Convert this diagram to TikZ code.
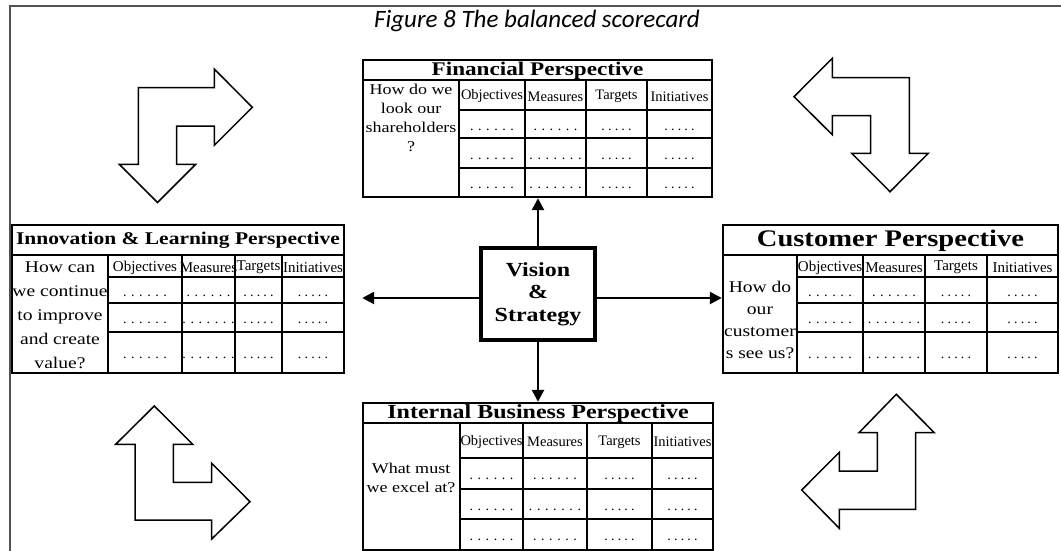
\documentclass[tikz,border=0pt]{standalone}
\usepackage{fontspec}
\usetikzlibrary{arrows.meta,fit,calc}
\newfontfamily\captionfont{Carlito}
\newfontfamily\pal[FakeStretch=1.2]{Liberation Serif}
\newfontfamily\palnarrow{Liberation Serif}
\newcommand\fs[2]{\fontsize{#1}{#2}\selectfont}

% splitting helpers for the card geometry
\def\gettwo#1,#2\relax{\def\xL{#1}\def\xR{#2}}
\def\getsix#1,#2,#3,#4,#5,#6\relax{\def\yT{#1}\def\yA{#2}\def\yB{#3}\def\yC{#4}\def\yE{#5}\def\yD{#6}}
\def\getfour#1,#2,#3,#4\relax{\def\xQ{#1}\def\xa{#2}\def\xb{#3}\def\xc{#4}}

% spaced rows of dots: #1 = number of dots, #2 = gap
\newcommand\dotrow[2]{.\foreach\i in {2,...,#1}{\hspace{#2}.}}
\newcommand\sixdots{\dotrow{6}{4.6pt}}
\newcommand\sevendots{\dotrow{7}{4.6pt}}
\newcommand\fivedots{\dotrow{5}{3.2pt}}

\tikzset{
  cardbox/.style={draw, line width=2.4pt, inner sep=0pt},
  gridline/.style={line width=2.2pt},
  hdr/.style={inner sep=0pt},
  dotcell/.style={inner sep=0pt, anchor=base, font=\palnarrow\fs{14}{14}},
  cardtitle/.style={inner sep=0pt, font=\pal\bfseries\fs{#1}{#1}},
  question/.style={inner sep=0pt, align=center},
  visionbox/.style={draw, line width=3.5pt, minimum width=114pt, minimum height=92pt,
    inner sep=0pt, align=center, font=\pal\bfseries\fs{20}{22.5}},
  conn/.style={line width=2.5pt, -{Triangle[length=12pt,width=12pt]}},
  bentarrow/.style={line width=1.5pt, line join=miter, fill=white},
  frameline/.style={line width=2pt, draw=black!68},
}

% #1 name, #2 left,right, #3 top,title,header,row1,row2,bottom,
% #4 column dividers, #5 header font size, #6 measures entry of the last row
\newcommand\scorecard[6]{%
  \gettwo#2\relax\getsix#3\relax\getfour#4\relax
  \node[cardbox, fit={(\xL,\yT) (\xR,\yD)}] (#1) {};
  \draw[gridline] (\xL,\yA) -- (\xR,\yA);
  \foreach \y in {\yB,\yC,\yE} {\draw[gridline] (\xQ,\y) -- (\xR,\y);}
  \foreach \x in {\xQ,\xa,\xb,\xc} {\draw[gridline] (\x,\yA) -- (\x,\yD);}
  \foreach \lab/\p/\q in {Objectives/\xQ/\xa, Measures/\xa/\xb, Targets/\xb/\xc, Initiatives/\xc/\xR}
    {\node[hdr, font=\palnarrow\fs{#5}{#5}] at ({(\p+\q)/2},{(\yA+\yB)/2+1.5}) {\lab};}
  \foreach \ya/\yb/\m in {\yB/\yC/\sixdots, \yC/\yE/\sevendots, \yE/\yD/#6}{
    \node[dotcell] at ({(\xQ+\xa)/2},{(\ya+\yb)/2+6}) {\sixdots};
    \node[dotcell] at ({(\xa+\xb)/2},{(\ya+\yb)/2+6}) {\m};
    \node[dotcell] at ({(\xb+\xc)/2},{(\ya+\yb)/2+6}) {\fivedots};
    \node[dotcell] at ({(\xc+\xR)/2},{(\ya+\yb)/2+6}) {\fivedots};
  }
}

\begin{document}
\begin{tikzpicture}[x=1pt,y=-1pt]
\useasboundingbox (0,0) rectangle (1061,551);

% page frame
\draw[frameline] (9.5,551) -- (9.5,6.5) -- (1061,6.5);

% caption
\node[inner sep=0pt, font=\captionfont\itshape\fs{25}{28}] (caption) at (537,21) {Figure 8 The balanced scorecard};

% the four perspectives
\scorecard{fin}{363,712}{60,80,110,138,168,197}{459,525,586,647}{14.5}{\sevendots}
\node[cardtitle=19.3] (fintitle) at (537.5,70.5) {Financial Perspective};
\node[question, anchor=north, font=\pal\fs{15}{19}] (finq) at (411,84)
  {How do we\\look our\\shareholders\\?};

\scorecard{inn}{12,344}{225,255,277,303,332,373}{108,182,235,282}{15}{\sevendots}
\node[cardtitle=17.9] (inntitle) at (178,240.5) {Innovation \& Learning Perspective};
\node[question, font=\pal\fs{16.3}{24}] (innq) at (60,315)
  {How can\\we continue\\to improve\\and create\\value?};

\scorecard{cus}{723,1058}{225,255,277,303,332,373}{797,863,925,987}{15}{\sevendots}
\node[cardtitle=23.8] (custitle) at (890.5,240.5) {Customer Perspective};
\node[question, font=\pal\fs{16.3}{22}] (cusq) at (760,320)
  {How do\\our\\customer\\s see us?};

\scorecard{int}{363,713}{403,423,458,489,519,550}{460,523,587,652}{14.5}{\sixdots}
\node[cardtitle=20] (inttitle) at (538,413.5) {Internal Business Perspective};
\node[question, font=\pal\fs{15}{19}] (intq) at (411,478)
  {What must\\we excel at?};

% centre
\node[visionbox] (vs) at (538,294) {Vision\\\&\\Strategy};
\draw[conn] (vs.north) -- (vs.north |- fin.south);
\draw[conn] (vs.south) -- (vs.south |- int.north);
\draw[conn] ([yshift=-4pt]vs.east) -- ([yshift=-4pt]vs.east -| cus.west);
\draw[conn, shorten >=17pt] ([yshift=-4pt]vs.west) -- ([yshift=-4pt]vs.west -| inn.east);

% bent double arrows in the corners
\draw[bentarrow] (138.3,87.7) -- (214.3,87.7) -- (214.3,69) -- (252.3,107.3) -- (214.3,145.3)
  -- (214.3,126) -- (176.7,126) -- (176.7,164.3) -- (195.7,164.3) -- (157.5,202.5)
  -- (119.3,164.3) -- (138.3,164.3) -- cycle;
\draw[bentarrow] (909.3,77.7) -- (832.3,77.7) -- (832.3,58.3) -- (794,96.7) -- (832.3,134.7)
  -- (832.3,115.7) -- (870.7,115.7) -- (870.7,153.3) -- (851.7,153.3) -- (890,191.7)
  -- (928.3,153.3) -- (909.3,153.3) -- cycle;
\draw[bentarrow] (135,520) -- (135,444.3) -- (115.7,444.3) -- (154.3,406) -- (192.7,444.3)
  -- (173.3,444.3) -- (173.3,482.3) -- (211.7,482.3) -- (211.7,463.3) -- (250,501.7)
  -- (211.7,539) -- (211.7,520) -- cycle;
\draw[bentarrow] (915.7,509.3) -- (915.7,432.7) -- (934.3,432.7) -- (896.3,394.3) -- (859,432.7)
  -- (877.3,432.7) -- (877.3,471) -- (839.3,471) -- (839.3,452.3) -- (801.7,490)
  -- (839.3,528.3) -- (839.3,509.3) -- cycle;
\end{tikzpicture}
\end{document}
